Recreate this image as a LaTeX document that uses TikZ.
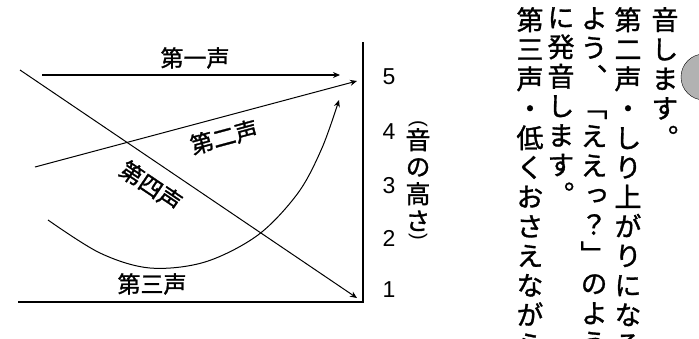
\documentclass[tikz,border=0pt]{standalone}
\usepackage{fontspec}
\setmainfont{Liberation Sans}
\newfontfamily\jp[FakeBold=1.2]{Noto Sans CJK JP}
\newfontfamily\jpv[RawFeature=+vert, FakeBold=1.2]{Noto Sans CJK JP}
\usetikzlibrary{arrows.meta}

\begin{document}
\begin{tikzpicture}[x=1pt, y=-1pt,
        tone/.style={draw=black, line width=1pt,
        -{Stealth[length=7pt,width=6pt]}},
        axis/.style={draw=black, line width=1.3pt},
        lab/.style={font=\jp\fontsize{23}{23}\selectfont, inner sep=0pt},
        num/.style={font=\fontsize{23}{23}\selectfont, inner sep=0pt},
        tate/.style={font=\jpv\fontsize{27}{29.5}\selectfont,
        align=center, inner sep=0pt, anchor=north},
        ]
        \useasboundingbox (0,0) rectangle (699,338);

        % axes
        \coordinate (top) at (363,42);
        \coordinate (o) at (363,302);
        \coordinate (left) at (18,302);
        \draw[axis] (top) -- (o) -- (left);

        % tones
        \coordinate (s1) at (42,75);
        \coordinate (e1) at (340,75);
        \coordinate (s2) at (35,167);
        \coordinate (e2) at (357,81);
        \coordinate (s4) at (20,70);
        \coordinate (e4) at (357,298);

        \draw[tone, line width=1.3pt] (s1) -- (e1);
        \draw[tone] (s2) -- (e2);
        \draw[tone] (s4) -- (e4);
        \draw[tone] plot[smooth, tension=0.55] coordinates {(48,220) (100,253)
          (150,268) (205,262) (258,235) (298,193) (322,148) (339,100)};

        \node (t1) [lab] at (195,58) {第一声};
        \node (t2) [lab, rotate=15] at (224,137) {第二声};
        \node (t4) [lab, rotate=-34] at (151,186) {第四声};
        \node (t3) [lab] at (152,284) {第三声};

        \node (n5) [num] at (389,77) {5};
        \node (n4) [num] at (389,132) {4};
        \node (n3) [num] at (389,186) {3};
        \node (n2) [num] at (389,238) {2};
        \node (n1) [num] at (389,290) {1};

        \node (po) [num, font=\fontsize{20}{20}\selectfont, rotate=-90] at (418,124) {(};
        \node (pitch) [tate, font=\jpv\fontsize{25}{27}\selectfont] at (418,128) {音\\の\\高\\さ};
        \node (pc) [num, font=\fontsize{20}{20}\selectfont, rotate=-90] at (418,237) {)};

        \node (col1) [tate] at (665,7) {音\\し\\ま\\す\\。};
        \node (col2) [tate] at (628,7) {第\\二\\声\\・\\し\\り\\上\\が\\り\\に\\な\\る};
        \node (col3) [tate] at (594,7) {よ\\う\\、\\「\\え\\え\\っ\\？\\」\\の\\よ\\う};
        \node (col4) [tate] at (561,7) {に\\発\\音\\し\\ま\\す\\。};
        \node (col5) [tate] at (530,7) {第\\三\\声\\・\\低\\く\\お\\さ\\え\\な\\が\\ら};

        \node (dot) [circle, draw=black, fill=gray!60, minimum size=46pt,
          inner sep=0pt] at (704,77) {};
\end{tikzpicture}
\end{document}
